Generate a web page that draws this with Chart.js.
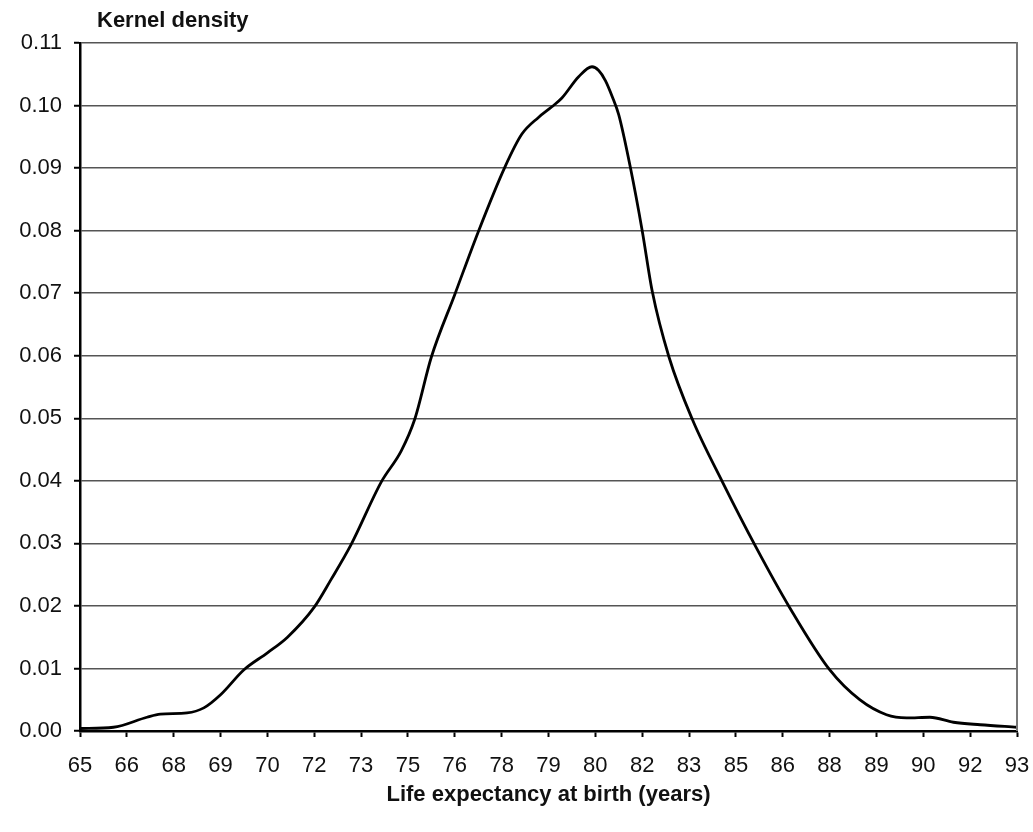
<!DOCTYPE html>
<html>
<head>
<meta charset="utf-8">
<script src="https://cdn.jsdelivr.net/npm/chart.js@4.4.1/dist/chart.umd.min.js"></script>
<style>
    html, body { margin: 0; padding: 0; background: #fff; }
    canvas { display: block; }
</style>
</head>
<body>
<canvas id="grafico-densidade" width="1033" height="832"></canvas>
<script>
// eixo x: rótulos igualmente espaçados entre 65 e 93 anos
const xLabels = ['65', '66', '68', '69', '70', '72', '73', '75', '76', '78', '79',
    '80', '82', '83', '85', '86', '88', '89', '90', '92', '93'];
const yTicks = [0, 0.01, 0.02, 0.03, 0.04, 0.05, 0.06, 0.07, 0.08, 0.09, 0.10, 0.11];

// curva de densidade (anos, densidade)
const ages = [65.0, 66.0, 67.0, 67.4, 68.2, 68.7, 69.2, 69.9, 70.6, 71.2, 72.0, 72.5,
    73.1, 74.0, 74.6, 75.0, 75.5, 76.2, 76.9, 77.7, 78.2, 78.7, 79.1, 79.4,
    79.9, 80.3, 80.5, 80.7, 80.9, 81.1, 81.45, 81.8, 82.1, 82.6, 83.3, 84.2,
    85.2, 86.2, 87.4, 88.3, 89.1, 89.7, 90.4, 91.1, 91.9, 93.0];
const density = [0.0004, 0.0006, 0.0022, 0.0027, 0.0029, 0.0037, 0.0058, 0.0098, 0.0125, 0.0150, 0.0198, 0.0242,
    0.0298, 0.0398, 0.0448, 0.0498, 0.0598, 0.0698, 0.0798, 0.0902, 0.0954, 0.0981, 0.0998, 0.1012,
    0.1046, 0.1062, 0.1056, 0.1040, 0.1015, 0.0985, 0.0900, 0.0800, 0.0703, 0.0598, 0.0498, 0.0398,
    0.0294, 0.0198, 0.0098, 0.0050, 0.0026, 0.0021, 0.0022, 0.0014, 0.0010, 0.0006];

const xMin = 65;
const xMax = 93;
const fontFamily = '"Liberation Sans", Arial, sans-serif';

// título do eixo y acima do gráfico e borda direita da área
const framePlugin = {
    id: 'frame',
    afterDraw(chart) {
        const { ctx, chartArea } = chart;
        ctx.save();
        ctx.strokeStyle = '#777';
        ctx.lineWidth = 2;
        ctx.beginPath();
        ctx.moveTo(chartArea.right, chartArea.top - 1);
        ctx.lineTo(chartArea.right, chartArea.bottom);
        ctx.stroke();

        ctx.font = 'bold 22px ' + fontFamily;
        ctx.fillStyle = '#111';
        ctx.textBaseline = 'middle';
        ctx.textAlign = 'left';
        ctx.fillText('Kernel density', 97, 21);
        ctx.restore();
    }
};

new Chart(document.getElementById('grafico-densidade'), {
    type: 'line',
    data: {
        datasets: [{
            label: 'Kernel density',
            data: ages.map((a, i) => ({ x: a, y: density[i] })),
            borderColor: '#000',
            borderWidth: 2.8,
            pointRadius: 0,
            fill: false,
            cubicInterpolationMode: 'monotone'
        }]
    },
    options: {
        responsive: false,
        animation: false,
        layout: { padding: { top: 43, left: 0, right: 16, bottom: 0 } },
        plugins: {
            legend: { display: false },
            tooltip: { enabled: false }
        },
        scales: {
            x: {
                type: 'linear',
                min: xMin,
                max: xMax,
                afterBuildTicks: scale => {
                    const step = (xMax - xMin) / (xLabels.length - 1);
                    scale.ticks = xLabels.map((_, i) => ({ value: xMin + i * step }));
                },
                afterFit: scale => {
                    scale.height = 101;
                    scale.paddingLeft = 0;
                    scale.paddingRight = 0;
                },
                ticks: {
                    autoSkip: false,
                    maxRotation: 0,
                    padding: 16,
                    color: '#111',
                    font: { family: fontFamily, size: 22 },
                    callback: (value, index) => xLabels[index]
                },
                grid: {
                    drawOnChartArea: false,
                    drawTicks: true,
                    tickLength: 6,
                    tickColor: '#000',
                    tickWidth: 2
                },
                border: { color: '#000', width: 2.5 },
                title: {
                    display: true,
                    text: 'Life expectancy at birth (years)',
                    color: '#111',
                    font: { family: fontFamily, size: 22, weight: 'bold' },
                    padding: { top: 0, bottom: 24 }
                }
            },
            y: {
                min: 0,
                max: 0.11,
                afterBuildTicks: scale => {
                    scale.ticks = yTicks.map(v => ({ value: v }));
                },
                afterFit: scale => { scale.width = 80; },
                ticks: {
                    padding: 12,
                    color: '#111',
                    font: { family: fontFamily, size: 22 },
                    callback: value => value.toFixed(2)
                },
                grid: {
                    color: '#555',
                    lineWidth: 1.5,
                    drawTicks: true,
                    tickLength: 6,
                    tickColor: '#000',
                    tickWidth: 2
                },
                border: { color: '#000', width: 2.5 }
            }
        }
    },
    plugins: [framePlugin]
});
</script>
</body>
</html>
